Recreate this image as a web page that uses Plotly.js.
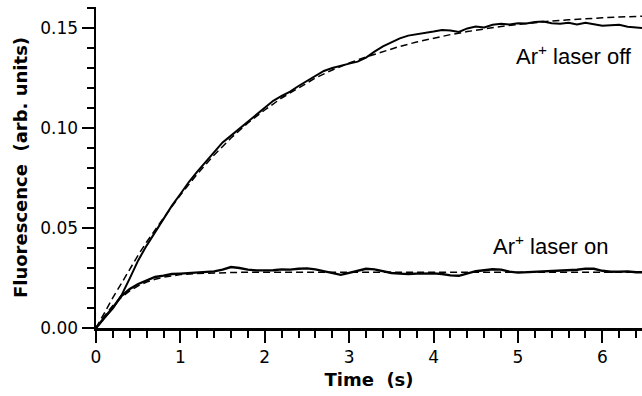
<!DOCTYPE html>
<html>
<head>
<meta charset="utf-8">
<script src="https://cdn.plot.ly/plotly-3.0.1.min.js"></script>
<style>html,body{margin:0;padding:0;background:#fff;}#chart{width:642px;height:396px;}</style>
</head>
<body>
<div id="chart"></div>
<script>
// Time axis (s) for the measured traces
const tData = [0,0.1,0.2,0.3,0.4,0.5,0.6,0.7,0.8,0.9,1.0,1.1,1.2,1.3,1.4,1.5,1.6,1.7,1.8,1.9,2.0,2.1,2.2,2.3,2.4,2.5,2.6,2.7,2.8,2.9,3.0,3.1,3.2,3.3,3.4,3.5,3.6,3.7,3.8,3.9,4.0,4.1,4.2,4.3,4.4,4.5,4.6,4.7,4.8,4.9,5.0,5.1,5.2,5.3,5.4,5.5,5.6,5.7,5.8,5.9,6.0,6.1,6.2,6.3,6.4,6.47];
// Ar+ laser off: measured fluorescence
const offData = [0,0.0052,0.0098,0.0162,0.0248,0.0338,0.0412,0.0480,0.0548,0.0612,0.0670,0.0730,0.0782,0.0832,0.0880,0.0928,0.0962,0.0997,0.1033,0.1070,0.1103,0.1136,0.1160,0.1182,0.1210,0.1236,0.1262,0.1285,0.1300,0.1312,0.1322,0.1332,0.1352,0.1382,0.1408,0.1428,0.1448,0.1462,0.1468,0.1476,0.1482,0.1490,0.1488,0.1480,0.1498,0.1507,0.1503,0.1516,0.1521,0.1518,0.1524,0.1522,0.1530,0.1533,0.1524,0.1521,0.1526,0.1518,0.1526,0.1519,0.1511,0.1514,0.1516,0.1506,0.1502,0.1500];
// Ar+ laser on: measured fluorescence
const onData = [0,0.0050,0.0102,0.0160,0.0195,0.0220,0.0238,0.0255,0.0262,0.0270,0.0272,0.0275,0.0277,0.0278,0.0283,0.0292,0.0305,0.0300,0.0292,0.0288,0.0287,0.0289,0.0293,0.0292,0.0296,0.0298,0.0293,0.0284,0.0272,0.0266,0.0276,0.0285,0.0296,0.0293,0.0283,0.0275,0.0272,0.0270,0.0272,0.0274,0.0273,0.0270,0.0263,0.0261,0.0274,0.0284,0.0289,0.0294,0.0292,0.0282,0.0277,0.0279,0.0282,0.0283,0.0285,0.0287,0.0288,0.0291,0.0297,0.0296,0.0286,0.0281,0.0282,0.0283,0.0279,0.0279];
// Fitted curves (dashed)
const tFit = [0,0.1,0.2,0.3,0.4,0.5,0.6,0.7,0.8,1.0,1.2,1.4,1.6,1.8,2.0,2.2,2.4,2.6,2.8,3.0,3.2,3.4,3.6,3.8,4.0,4.2,4.4,4.6,4.8,5.0,5.2,5.4,5.6,5.8,6.0,6.2,6.47];
const offFit = [0,0.0078,0.0152,0.0222,0.0295,0.0365,0.0430,0.0492,0.0550,0.0665,0.0770,0.0865,0.0950,0.1025,0.1090,0.1150,0.1202,0.1250,0.1290,0.1325,0.1355,0.1383,0.1408,0.1430,0.1450,0.1467,0.1482,0.1496,0.1508,0.1518,0.1527,0.1535,0.1541,0.1547,0.1551,0.1555,0.1559];
const onFit = [0,0.0060,0.0112,0.0153,0.0186,0.0211,0.0230,0.0244,0.0254,0.0267,0.0273,0.0276,0.0278,0.0279,0.0279,0.0279,0.0279,0.0279,0.0279,0.0279,0.0279,0.0279,0.0279,0.0279,0.0279,0.0279,0.0279,0.0279,0.0279,0.0279,0.0279,0.0279,0.0279,0.0279,0.0279,0.0279,0.0279];
const xTicks = [0,1,2,3,4,5,6];
const yTicks = [0,0.05,0.10,0.15];
const xMinorStep = 0.2;
const yMinorStep = 0.01;
const labelOff = "Ar<sup>+</sup> laser off";
const labelOn = "Ar<sup>+</sup> laser on";

const xRange = [0, 6.47];
const yRange = [0, 0.1605];

const traces = [
  {x: tFit, y: offFit, mode: 'lines', line: {color: '#000', width: 1.5, dash: '7px,4px'}, hoverinfo: 'skip'},
  {x: tFit, y: onFit, mode: 'lines', line: {color: '#000', width: 1.5, dash: '7px,4px'}, hoverinfo: 'skip'},
  {x: tData, y: offData, mode: 'lines', line: {color: '#000', width: 2}},
  {x: tData, y: onData, mode: 'lines', line: {color: '#000', width: 2.4}}
];

const tickFont = {family: 'DejaVu Sans', size: 17, color: '#000'};
const titleFont = {family: 'DejaVu Sans', size: 18, color: '#000', weight: 'bold'};

const layout = {
  width: 642, height: 396,
  margin: {l: 95.5, r: 0, t: 7, b: 68, pad: 0},
  paper_bgcolor: '#fff', plot_bgcolor: '#fff',
  showlegend: false,
  xaxis: {
    range: xRange, showgrid: false, zeroline: false,
    showline: true, linecolor: '#000', linewidth: 2.5,
    tickmode: 'linear', tick0: xTicks[0], dtick: xTicks[1] - xTicks[0], tickformat: 'd',
    ticks: 'outside', ticklen: 12, tickwidth: 2, tickcolor: '#000',
    tickfont: tickFont,
    minor: {tick0: 0, dtick: xMinorStep, ticks: 'outside', ticklen: 7, tickwidth: 2, tickcolor: '#000', showgrid: false},
    title: {text: 'Time  (s)', font: titleFont, standoff: 8}
  },
  yaxis: {
    range: yRange, showgrid: false, zeroline: false,
    showline: true, linecolor: '#000', linewidth: 2.5,
    tickmode: 'linear', tick0: yTicks[0], dtick: yTicks[1] - yTicks[0], tickformat: '.2f',
    ticks: 'outside', ticklen: 12, tickwidth: 2, tickcolor: '#000',
    tickfont: tickFont,
    minor: {tick0: 0, dtick: yMinorStep, ticks: 'outside', ticklen: 7, tickwidth: 2, tickcolor: '#000', showgrid: false},
    title: {text: 'Fluorescence  (arb. units)', font: titleFont, standoff: 8}
  },
  annotations: [
    {x: 4.95, y: 0.1365, xref: 'x', yref: 'y', text: labelOff, showarrow: false, xanchor: 'left', yanchor: 'middle', font: {family: 'Liberation Sans', size: 22, color: '#000'}},
    {x: 4.675, y: 0.0415, xref: 'x', yref: 'y', text: labelOn, showarrow: false, xanchor: 'left', yanchor: 'middle', font: {family: 'Liberation Sans', size: 22, color: '#000'}}
  ]
};

Plotly.newPlot('chart', traces, layout, {displayModeBar: false, staticPlot: true});
</script>
</body>
</html>
